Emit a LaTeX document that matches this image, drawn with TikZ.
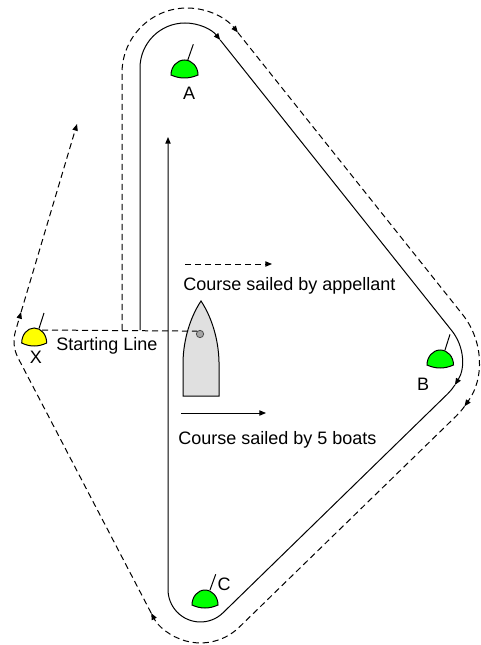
\documentclass[tikz,border=0pt]{standalone}
\usepackage{fontspec}
\setmainfont{Liberation Sans}
\usetikzlibrary{arrows.meta}
\definecolor{buoygreen}{RGB}{0,255,0}
\definecolor{buoyyellow}{RGB}{255,255,0}
\definecolor{hullgray}{RGB}{224,224,224}
\definecolor{pingray}{RGB}{165,165,165}
% #1 left x, #2 bottom y, #3 width, #4 height, #5 colour
\newcommand{\buoymark}[5]{%
  \draw[fill=#5, line width=0.75pt] (#1,#2)
    .. controls (#1,{#2-0.55*#4}) and ({#1+0.22*#3},{#2-#4}) .. ({#1+0.5*#3},{#2-#4})
    .. controls ({#1+0.78*#3},{#2-#4}) and ({#1+#3},{#2-0.55*#4}) .. ({#1+#3},#2)
    .. controls ({#1+0.66*#3},{#2+4}) and ({#1+0.33*#3},{#2+4}) .. (#1,#2) -- cycle;}
\begin{document}
\begin{tikzpicture}[x=0.75pt, y=-0.75pt,
  solidcourse/.style={line width=0.75pt},
  dashcourse/.style={line width=0.75pt, dash pattern=on 4.6pt off 2.9pt},
  arrowed/.style={-{Triangle[length=5pt,width=4pt]}},
  lbl/.style={inner sep=0pt, font=\fontsize{13.5}{16}\selectfont}]
\useasboundingbox (0,0) rectangle (480,645);

% course sailed by the 5 boats
\draw[solidcourse, arrowed] (140,330) -- (140,68)
  arc[start angle=180, end angle=321.45, radius=45];
\draw[solidcourse, arrowed] (220.2,40) -- (451.8,330.7)
  arc[start angle=-38.55, end angle=32, radius=47];
\draw[solidcourse, arrowed] (454.9,384.9)
  arc[start angle=32, end angle=45.8, radius=47] -- (223,612.8)
  arc[start angle=45.8, end angle=180, radius=32.4] -- (168,137);

% course sailed by appellant
\draw[dashcourse, arrowed] (122,330) -- (122,73)
  arc[start angle=180, end angle=321.45, radius=65];
\draw[dashcourse, arrowed] (237.8,32.5) -- (462.4,314.3)
  arc[start angle=-38.55, end angle=36, radius=76];
\draw[dashcourse, arrowed] (464.5,406.4)
  arc[start angle=36, end angle=45.8, radius=76] -- (239.2,627.2)
  arc[start angle=45.8, end angle=152.4, radius=55.6];
\draw[dashcourse, arrowed] (151.2,613.1) -- (18.1,358)
  arc[start angle=152.4, end angle=196.6, radius=36] -- (21.1,312);
\draw[dashcourse, arrowed] (21.1,312) -- (77,124);

% committee boat
\draw[fill=hullgray, line width=0.75pt] (183,396) -- (183,362)
  .. controls (183.5,338) and (191,316) .. (201,301)
  .. controls (211,316) and (218.5,338) .. (219,362) -- (219,396) -- cycle;
\coordinate (startX) at (42,330);
\node[circle, draw=black!70, fill=pingray, line width=0.6pt, inner sep=0pt,
      minimum size=5.5pt] (pin) at (200,334) {};
\draw[dashcourse] (startX) -- (pin.north west);

% marks
\buoymark{171}{75}{27}{15}{buoygreen}
\draw[line width=0.75pt] (187.7,60.3) -- (193.3,44.3);
\buoymark{427}{365}{26.5}{15}{buoygreen}
\draw[line width=0.75pt] (445,350) -- (450,334.3);
\buoymark{192}{605}{26}{15}{buoygreen}
\draw[line width=0.75pt] (210,590) -- (215.7,574.3);
\buoymark{21.7}{343}{25}{15}{buoyyellow}
\draw[line width=0.75pt] (39,328.5) -- (44,313);

% labels
\node[lbl, anchor=base] (labA) at (189,100) {A};
\node[lbl, anchor=base] (labB) at (423,390) {B};
\node[lbl, anchor=base] (labC) at (224,590) {C};
\node[lbl, anchor=base] (labX) at (36,363) {X};
\node[lbl, anchor=base west] (startlbl) at (56,350) {Starting Line};

% legend
\coordinate (legDa) at (185,264);
\coordinate (legDb) at (272,264);
\draw[dashcourse, arrowed] (legDa) -- (legDb);
\node[lbl, anchor=base west] (applbl) at (183,290) {Course sailed by appellant};
\coordinate (legSa) at (181,413);
\coordinate (legSb) at (266,413);
\draw[solidcourse, arrowed] (legSa) -- (legSb);
\node[lbl, anchor=base west] (boatslbl) at (178,444) {Course sailed by 5 boats};
\end{tikzpicture}
\end{document}
